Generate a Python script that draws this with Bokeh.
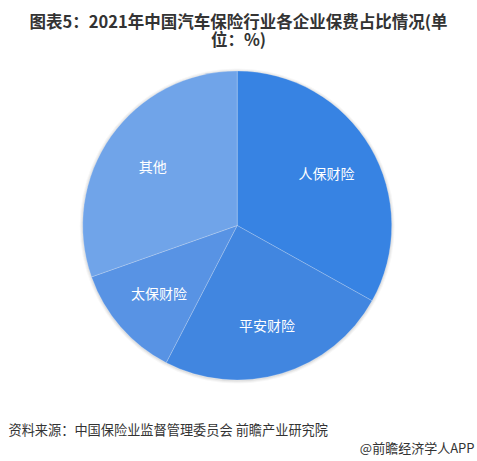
import math
from bokeh.plotting import figure
from bokeh.models import Range1d, ColumnDataSource
from bokeh.core.properties import value
from bokeh.embed import file_html
from bokeh.resources import INLINE

# ---- data ----
companies = ["人保财险", "平安财险", "太保财险", "其他"]
shares = [33.1, 24.5, 12.0, 30.4]
colors = ["#3783e3", "#4186e0", "#5893e4", "#70a4e9"]
title_lines = ["图表5：2021年中国汽车保险行业各企业保费占比情况(单", "位：%)"]
source_note = "资料来源：中国保险业监督管理委员会 前瞻产业研究院"
brand_note = "@前瞻经济学人APP"

W, H = 477, 461
FONT = "Noto Sans CJK SC"

p = figure(width=W, height=H, output_backend="svg", toolbar_location=None,
           x_range=Range1d(0, W), y_range=Range1d(0, H), min_border=0)
p.axis.visible = False
p.grid.visible = False
p.outline_line_color = None
p.background_fill_color = "white"

# page-pixel helpers (y measured from top)
def Y(py):
    return H - py

cx, cy, R = 236.7, Y(225.0), 154.5

total = sum(shares)
starts, ends, lx, ly = [], [], [], []
cum = 0.0
for s in shares:
    a0 = cum / total * 2 * math.pi
    cum += s
    a1 = cum / total * 2 * math.pi
    starts.append(math.pi / 2 - a1)
    ends.append(math.pi / 2 - a0)
    mid = (a0 + a1) / 2
    lx.append(cx + 0.67 * R * math.sin(mid))
    ly.append(cy + 0.67 * R * math.cos(mid))

src = ColumnDataSource(dict(start=starts, end=ends, color=colors,
                            name=companies, lx=lx, ly=ly))

# soft shadow
for i, a in enumerate([0.05, 0.04, 0.03]):
    p.circle(x=[cx], y=[cy - 0.5], radius=R + 1 + i, fill_color="black",
             fill_alpha=a, line_color=None)

p.wedge(x=cx, y=cy, radius=R, start_angle="start", end_angle="end",
        fill_color="color", line_color="white", line_alpha=0.35,
        line_width=0.6, source=src)

p.text(x="lx", y="ly", text="name", source=src, text_color="white",
       text_font=value(FONT), text_font_size="14px",
       text_align="center", text_baseline="middle")

# title
p.text(x=[238, 238], y=[Y(20), Y(38)], text=title_lines, text_color="#333333",
       text_font=value(FONT), text_font_size="16.5px", text_font_style="bold",
       text_align="center", text_baseline="middle")

# footer
p.text(x=[8], y=[Y(429)], text=[source_note], text_color="#333333",
       text_font=value(FONT), text_font_size="13.2px",
       text_align="left", text_baseline="middle")
p.text(x=[474], y=[Y(447)], text=[brand_note], text_color="#333333",
       text_font=value(FONT), text_font_size="13px",
       text_align="right", text_baseline="middle")

open("out.html", "w").write(file_html(p, INLINE))
